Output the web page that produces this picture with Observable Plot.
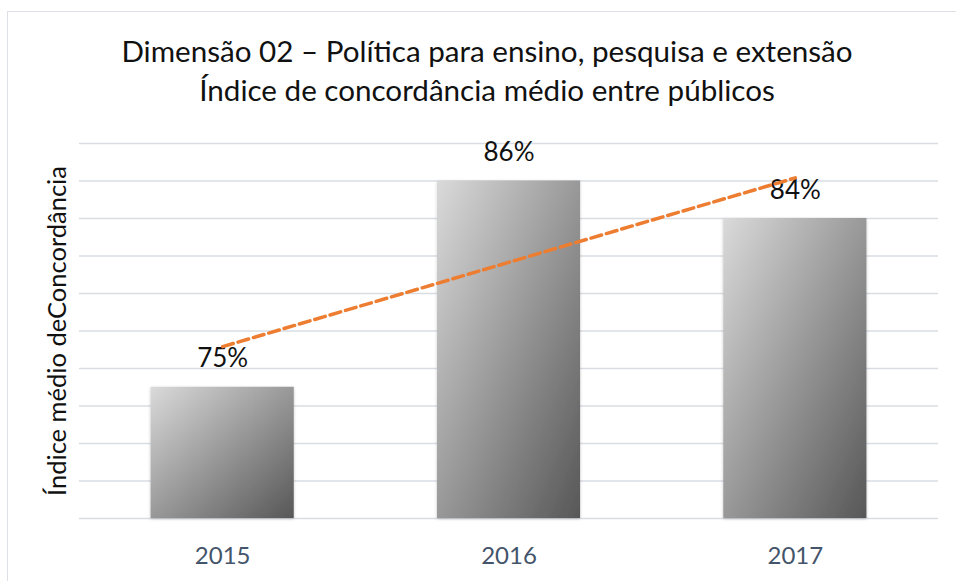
<!DOCTYPE html>
<html>
<head>
<meta charset="utf-8">
<script src="https://cdn.jsdelivr.net/npm/d3@7"></script>
<script src="https://cdn.jsdelivr.net/npm/@observablehq/plot@0.6"></script>
<style>
  html, body { margin: 0; padding: 0; background: #fff; overflow: hidden; }
  body { width: 956px; height: 581px; position: relative; font-family: Lato, "Open Sans", sans-serif; }
  #frame { position: absolute; left: 7px; top: 11px; width: 1200px; height: 1200px; border: 1px solid #dde1e6; box-sizing: border-box; pointer-events: none; }
  #title { height: 130px; box-sizing: border-box; padding-top: 31px; padding-left: 18px; text-align: center; font-size: 29.6px; line-height: 39px; color: #111; white-space: nowrap; }
  #chart svg { display: block; }
</style>
</head>
<body>
<div id="frame"></div>
<div id="title"><div id="t1"></div><div id="t2"></div></div>
<div id="chart"></div>
<script>
const titleLines = ["Dimensão 02 – Política para ensino, pesquisa e extensão", "Índice de concordância médio entre públicos"];
const yLabel = "Índice médio deConcordância";
const years = [2015, 2016, 2017];
const values = [75, 86, 84];
const yDomain = [68, 88];
const yGridStep = 2;

document.getElementById("t1").textContent = titleLines[0];
document.getElementById("t2").textContent = titleLines[1];

const data = years.map((year, i) => ({year, value: values[i]}));
const gridTicks = d3.range(yDomain[0], yDomain[1] + 0.001, yGridStep);

const defs = () => {
  const ns = "http://www.w3.org/2000/svg";
  const g = document.createElementNS(ns, "defs");
  g.innerHTML = `
    <linearGradient id="barGrad" x1="0" y1="0" x2="1" y2="1">
      <stop offset="0" stop-color="#dadada"/>
      <stop offset="1" stop-color="#575757"/>
    </linearGradient>
    <filter id="barShadow" x="-10%" y="-10%" width="120%" height="120%">
      <feDropShadow dx="0" dy="1" stdDeviation="1.6" flood-color="#000" flood-opacity="0.22"/>
    </filter>`;
  return g;
};

const plot = Plot.plot({
  width: 956,
  height: 451,
  marginTop: 13,
  marginBottom: 63,
  marginLeft: 79,
  marginRight: 18,
  style: {fontFamily: "Lato, 'Open Sans', sans-serif", background: "transparent", overflow: "visible"},
  x: {type: "linear", domain: [years[0] - 0.5, years[years.length - 1] + 0.5], axis: null},
  y: {domain: yDomain, axis: null},
  marks: [
    defs,
    Plot.gridY(gridTicks, {stroke: "#d9dde3", strokeOpacity: 1, strokeWidth: 1.3}),
    Plot.rectY(data, {
      x1: d => d.year - 0.25,
      x2: d => d.year + 0.25,
      y1: yDomain[0],
      y2: "value",
      fill: "url(#barGrad)",
      className: "bars"
    }),
    Plot.axisX({ticks: years, tickFormat: d => String(d), tickSize: 0, tickPadding: 28, fontSize: 24, color: "#44546a", label: null}),
    Plot.text(data, {x: "year", y: "value", text: d => d.value + "%", dy: -20, lineAnchor: "bottom", fontSize: 26, fill: "#111"}),
    Plot.text([yLabel], {frameAnchor: "left", dx: -22, rotate: -90, textAnchor: "middle", lineAnchor: "middle", fontSize: 25.5, fill: "#111", text: d => d}),
    Plot.linearRegressionY(data, {x: "year", y: "value", ci: 0, stroke: "#ed7d31", strokeWidth: 3.5, strokeDasharray: "11,5"})
  ]
});
d3.select(plot).selectAll(".bars rect").attr("filter", "url(#barShadow)");
document.getElementById("chart").appendChild(plot);
</script>
</body>
</html>
